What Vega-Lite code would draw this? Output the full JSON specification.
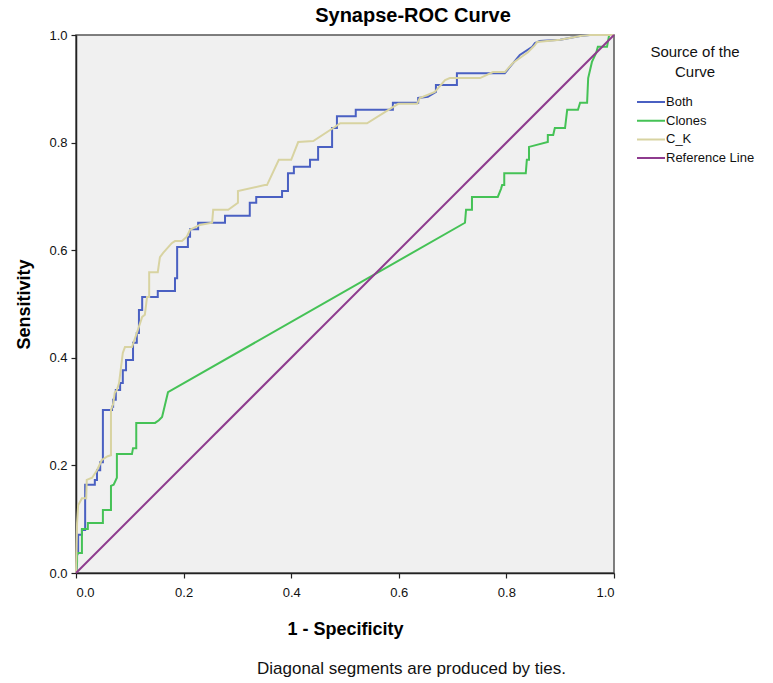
{
  "$schema": "https://vega.github.io/schema/vega-lite/v6.json",
  "autosize": "none",
  "padding": {"left": 76, "top": 35, "right": 159, "bottom": 110},
  "width": 538,
  "height": 538,
  "background": "white",
  "title": {
    "text": "Synapse-ROC Curve",
    "fontSize": 20,
    "fontWeight": "bold",
    "font": "Liberation Sans",
    "color": "black",
    "anchor": "middle",
    "baseline": "bottom",
    "offset": 7,
    "dx": 68,
    "dy": 24
  },
  "config": {
    "font": "Liberation Sans",
    "view": {"fill": "#f0f0f0", "stroke": "#555555", "strokeWidth": 1.5},
    "axis": {
      "grid": false,
      "domainColor": "#222222",
      "domainWidth": 1.5,
      "tickColor": "#222222",
      "tickWidth": 1.2,
      "tickSize": 5,
      "labelFontSize": 13,
      "labelColor": "#111111",
      "labelFont": "Liberation Sans",
      "titleFont": "Liberation Sans",
      "titleColor": "black"
    },
    "legend": {
      "labelFont": "Liberation Sans",
      "titleFont": "Liberation Sans"
    }
  },
  "data": {
    "values": [
      {"c": "Both", "x": 0, "y": 0},
      {"c": "Both", "x": 0.002, "y": 0.033},
      {"c": "Both", "x": 0.004, "y": 0.037},
      {"c": "Both", "x": 0.004, "y": 0.071},
      {"c": "Both", "x": 0.011, "y": 0.071},
      {"c": "Both", "x": 0.011, "y": 0.080},
      {"c": "Both", "x": 0.017, "y": 0.080},
      {"c": "Both", "x": 0.017, "y": 0.164},
      {"c": "Both", "x": 0.035, "y": 0.164},
      {"c": "Both", "x": 0.035, "y": 0.173},
      {"c": "Both", "x": 0.039, "y": 0.173},
      {"c": "Both", "x": 0.039, "y": 0.191},
      {"c": "Both", "x": 0.045, "y": 0.191},
      {"c": "Both", "x": 0.045, "y": 0.206},
      {"c": "Both", "x": 0.050, "y": 0.206},
      {"c": "Both", "x": 0.050, "y": 0.303},
      {"c": "Both", "x": 0.067, "y": 0.303},
      {"c": "Both", "x": 0.067, "y": 0.309},
      {"c": "Both", "x": 0.069, "y": 0.309},
      {"c": "Both", "x": 0.069, "y": 0.322},
      {"c": "Both", "x": 0.074, "y": 0.322},
      {"c": "Both", "x": 0.074, "y": 0.340},
      {"c": "Both", "x": 0.082, "y": 0.340},
      {"c": "Both", "x": 0.082, "y": 0.353},
      {"c": "Both", "x": 0.087, "y": 0.353},
      {"c": "Both", "x": 0.087, "y": 0.377},
      {"c": "Both", "x": 0.093, "y": 0.377},
      {"c": "Both", "x": 0.093, "y": 0.396},
      {"c": "Both", "x": 0.106, "y": 0.396},
      {"c": "Both", "x": 0.106, "y": 0.428},
      {"c": "Both", "x": 0.113, "y": 0.428},
      {"c": "Both", "x": 0.113, "y": 0.446},
      {"c": "Both", "x": 0.117, "y": 0.446},
      {"c": "Both", "x": 0.117, "y": 0.489},
      {"c": "Both", "x": 0.123, "y": 0.489},
      {"c": "Both", "x": 0.123, "y": 0.513},
      {"c": "Both", "x": 0.152, "y": 0.513},
      {"c": "Both", "x": 0.152, "y": 0.524},
      {"c": "Both", "x": 0.184, "y": 0.524},
      {"c": "Both", "x": 0.184, "y": 0.548},
      {"c": "Both", "x": 0.188, "y": 0.548},
      {"c": "Both", "x": 0.188, "y": 0.606},
      {"c": "Both", "x": 0.208, "y": 0.606},
      {"c": "Both", "x": 0.208, "y": 0.625},
      {"c": "Both", "x": 0.212, "y": 0.625},
      {"c": "Both", "x": 0.212, "y": 0.639},
      {"c": "Both", "x": 0.227, "y": 0.639},
      {"c": "Both", "x": 0.227, "y": 0.651},
      {"c": "Both", "x": 0.277, "y": 0.651},
      {"c": "Both", "x": 0.277, "y": 0.664},
      {"c": "Both", "x": 0.323, "y": 0.664},
      {"c": "Both", "x": 0.323, "y": 0.688},
      {"c": "Both", "x": 0.335, "y": 0.688},
      {"c": "Both", "x": 0.335, "y": 0.699},
      {"c": "Both", "x": 0.383, "y": 0.699},
      {"c": "Both", "x": 0.383, "y": 0.710},
      {"c": "Both", "x": 0.394, "y": 0.710},
      {"c": "Both", "x": 0.394, "y": 0.743},
      {"c": "Both", "x": 0.405, "y": 0.743},
      {"c": "Both", "x": 0.405, "y": 0.755},
      {"c": "Both", "x": 0.435, "y": 0.755},
      {"c": "Both", "x": 0.435, "y": 0.768},
      {"c": "Both", "x": 0.450, "y": 0.768},
      {"c": "Both", "x": 0.450, "y": 0.792},
      {"c": "Both", "x": 0.476, "y": 0.792},
      {"c": "Both", "x": 0.476, "y": 0.827},
      {"c": "Both", "x": 0.485, "y": 0.827},
      {"c": "Both", "x": 0.485, "y": 0.849},
      {"c": "Both", "x": 0.520, "y": 0.849},
      {"c": "Both", "x": 0.520, "y": 0.861},
      {"c": "Both", "x": 0.589, "y": 0.861},
      {"c": "Both", "x": 0.589, "y": 0.874},
      {"c": "Both", "x": 0.636, "y": 0.874},
      {"c": "Both", "x": 0.636, "y": 0.883},
      {"c": "Both", "x": 0.654, "y": 0.885},
      {"c": "Both", "x": 0.669, "y": 0.894},
      {"c": "Both", "x": 0.669, "y": 0.907},
      {"c": "Both", "x": 0.708, "y": 0.907},
      {"c": "Both", "x": 0.708, "y": 0.929},
      {"c": "Both", "x": 0.797, "y": 0.929},
      {"c": "Both", "x": 0.825, "y": 0.963},
      {"c": "Both", "x": 0.848, "y": 0.978},
      {"c": "Both", "x": 0.853, "y": 0.985},
      {"c": "Both", "x": 0.862, "y": 0.989},
      {"c": "Both", "x": 0.900, "y": 0.991},
      {"c": "Both", "x": 0.937, "y": 0.998},
      {"c": "Both", "x": 0.955, "y": 1},
      {"c": "Both", "x": 1, "y": 1},

      {"c": "Clones", "x": 0, "y": 0},
      {"c": "Clones", "x": 0.002, "y": 0.020},
      {"c": "Clones", "x": 0.002, "y": 0.037},
      {"c": "Clones", "x": 0.011, "y": 0.037},
      {"c": "Clones", "x": 0.011, "y": 0.082},
      {"c": "Clones", "x": 0.022, "y": 0.082},
      {"c": "Clones", "x": 0.022, "y": 0.093},
      {"c": "Clones", "x": 0.050, "y": 0.093},
      {"c": "Clones", "x": 0.050, "y": 0.117},
      {"c": "Clones", "x": 0.065, "y": 0.117},
      {"c": "Clones", "x": 0.065, "y": 0.162},
      {"c": "Clones", "x": 0.070, "y": 0.164},
      {"c": "Clones", "x": 0.076, "y": 0.177},
      {"c": "Clones", "x": 0.076, "y": 0.221},
      {"c": "Clones", "x": 0.104, "y": 0.221},
      {"c": "Clones", "x": 0.106, "y": 0.232},
      {"c": "Clones", "x": 0.112, "y": 0.232},
      {"c": "Clones", "x": 0.112, "y": 0.279},
      {"c": "Clones", "x": 0.147, "y": 0.279},
      {"c": "Clones", "x": 0.154, "y": 0.284},
      {"c": "Clones", "x": 0.160, "y": 0.290},
      {"c": "Clones", "x": 0.171, "y": 0.336},
      {"c": "Clones", "x": 0.723, "y": 0.651},
      {"c": "Clones", "x": 0.725, "y": 0.675},
      {"c": "Clones", "x": 0.736, "y": 0.675},
      {"c": "Clones", "x": 0.736, "y": 0.699},
      {"c": "Clones", "x": 0.784, "y": 0.699},
      {"c": "Clones", "x": 0.790, "y": 0.714},
      {"c": "Clones", "x": 0.792, "y": 0.721},
      {"c": "Clones", "x": 0.796, "y": 0.721},
      {"c": "Clones", "x": 0.796, "y": 0.743},
      {"c": "Clones", "x": 0.836, "y": 0.743},
      {"c": "Clones", "x": 0.838, "y": 0.768},
      {"c": "Clones", "x": 0.842, "y": 0.768},
      {"c": "Clones", "x": 0.842, "y": 0.792},
      {"c": "Clones", "x": 0.877, "y": 0.801},
      {"c": "Clones", "x": 0.877, "y": 0.814},
      {"c": "Clones", "x": 0.887, "y": 0.814},
      {"c": "Clones", "x": 0.890, "y": 0.827},
      {"c": "Clones", "x": 0.909, "y": 0.827},
      {"c": "Clones", "x": 0.913, "y": 0.861},
      {"c": "Clones", "x": 0.933, "y": 0.861},
      {"c": "Clones", "x": 0.937, "y": 0.874},
      {"c": "Clones", "x": 0.950, "y": 0.874},
      {"c": "Clones", "x": 0.952, "y": 0.920},
      {"c": "Clones", "x": 0.959, "y": 0.950},
      {"c": "Clones", "x": 0.967, "y": 0.967},
      {"c": "Clones", "x": 0.970, "y": 0.978},
      {"c": "Clones", "x": 0.987, "y": 0.978},
      {"c": "Clones", "x": 0.991, "y": 1},
      {"c": "Clones", "x": 1, "y": 1},

      {"c": "C_K", "x": 0, "y": 0},
      {"c": "C_K", "x": 0.002, "y": 0.093},
      {"c": "C_K", "x": 0.004, "y": 0.126},
      {"c": "C_K", "x": 0.011, "y": 0.139},
      {"c": "C_K", "x": 0.019, "y": 0.139},
      {"c": "C_K", "x": 0.020, "y": 0.173},
      {"c": "C_K", "x": 0.030, "y": 0.177},
      {"c": "C_K", "x": 0.039, "y": 0.191},
      {"c": "C_K", "x": 0.048, "y": 0.210},
      {"c": "C_K", "x": 0.059, "y": 0.217},
      {"c": "C_K", "x": 0.065, "y": 0.219},
      {"c": "C_K", "x": 0.065, "y": 0.303},
      {"c": "C_K", "x": 0.069, "y": 0.314},
      {"c": "C_K", "x": 0.072, "y": 0.335},
      {"c": "C_K", "x": 0.076, "y": 0.340},
      {"c": "C_K", "x": 0.080, "y": 0.353},
      {"c": "C_K", "x": 0.087, "y": 0.409},
      {"c": "C_K", "x": 0.091, "y": 0.420},
      {"c": "C_K", "x": 0.104, "y": 0.420},
      {"c": "C_K", "x": 0.113, "y": 0.446},
      {"c": "C_K", "x": 0.123, "y": 0.476},
      {"c": "C_K", "x": 0.128, "y": 0.480},
      {"c": "C_K", "x": 0.132, "y": 0.513},
      {"c": "C_K", "x": 0.136, "y": 0.513},
      {"c": "C_K", "x": 0.136, "y": 0.559},
      {"c": "C_K", "x": 0.152, "y": 0.559},
      {"c": "C_K", "x": 0.156, "y": 0.587},
      {"c": "C_K", "x": 0.162, "y": 0.595},
      {"c": "C_K", "x": 0.178, "y": 0.613},
      {"c": "C_K", "x": 0.184, "y": 0.617},
      {"c": "C_K", "x": 0.197, "y": 0.617},
      {"c": "C_K", "x": 0.206, "y": 0.625},
      {"c": "C_K", "x": 0.212, "y": 0.638},
      {"c": "C_K", "x": 0.230, "y": 0.647},
      {"c": "C_K", "x": 0.253, "y": 0.651},
      {"c": "C_K", "x": 0.255, "y": 0.675},
      {"c": "C_K", "x": 0.283, "y": 0.675},
      {"c": "C_K", "x": 0.301, "y": 0.688},
      {"c": "C_K", "x": 0.301, "y": 0.710},
      {"c": "C_K", "x": 0.351, "y": 0.721},
      {"c": "C_K", "x": 0.355, "y": 0.721},
      {"c": "C_K", "x": 0.377, "y": 0.768},
      {"c": "C_K", "x": 0.400, "y": 0.768},
      {"c": "C_K", "x": 0.413, "y": 0.801},
      {"c": "C_K", "x": 0.441, "y": 0.803},
      {"c": "C_K", "x": 0.481, "y": 0.829},
      {"c": "C_K", "x": 0.491, "y": 0.836},
      {"c": "C_K", "x": 0.541, "y": 0.836},
      {"c": "C_K", "x": 0.589, "y": 0.866},
      {"c": "C_K", "x": 0.599, "y": 0.872},
      {"c": "C_K", "x": 0.634, "y": 0.872},
      {"c": "C_K", "x": 0.639, "y": 0.883},
      {"c": "C_K", "x": 0.667, "y": 0.894},
      {"c": "C_K", "x": 0.686, "y": 0.916},
      {"c": "C_K", "x": 0.695, "y": 0.920},
      {"c": "C_K", "x": 0.751, "y": 0.920},
      {"c": "C_K", "x": 0.775, "y": 0.931},
      {"c": "C_K", "x": 0.797, "y": 0.931},
      {"c": "C_K", "x": 0.812, "y": 0.948},
      {"c": "C_K", "x": 0.840, "y": 0.968},
      {"c": "C_K", "x": 0.853, "y": 0.981},
      {"c": "C_K", "x": 0.857, "y": 0.987},
      {"c": "C_K", "x": 0.900, "y": 0.991},
      {"c": "C_K", "x": 0.937, "y": 0.998},
      {"c": "C_K", "x": 0.955, "y": 1},
      {"c": "C_K", "x": 1, "y": 1},

      {"c": "Reference Line", "x": 0, "y": 0},
      {"c": "Reference Line", "x": 1, "y": 1}
    ]
  },
  "layer": [
    {
      "mark": {"type": "line", "strokeWidth": 2, "interpolate": "linear"},
      "encoding": {
        "x": {
          "field": "x",
          "type": "quantitative",
          "scale": {"domain": [0, 1], "nice": false, "zero": false},
          "axis": {
            "orient": "bottom",
            "title": "1 - Specificity",
            "titleFontSize": 18,
            "titleFontWeight": "bold",
            "titleBaseline": "alphabetic",
            "titleY": 61,
            "values": [0, 0.2, 0.4, 0.6, 0.8, 1],
            "format": ".1f",
            "labelPadding": 8
          }
        },
        "y": {
          "field": "y",
          "type": "quantitative",
          "scale": {"domain": [0, 1], "nice": false, "zero": false},
          "axis": {
            "title": "Sensitivity",
            "titleFontSize": 18,
            "titleFontWeight": "bold",
            "titleBaseline": "alphabetic",
            "titleAngle": -90,
            "titleX": -47,
            "values": [0, 0.2, 0.4, 0.6, 0.8, 1],
            "format": ".1f",
            "labelPadding": 4
          }
        },
        "color": {
          "field": "c",
          "type": "nominal",
          "scale": {
            "domain": ["Both", "Clones", "C_K", "Reference Line"],
            "range": ["#4a60c2", "#45c256", "#d8d3a1", "#8e3b8e"]
          },
          "legend": {
            "title": ["Source of the", "Curve"],
            "orient": "none",
            "legendX": 560,
            "legendY": 10,
            "titleFontSize": 15,
            "titleFontWeight": "normal",
            "titleColor": "#111111",
            "titleLineHeight": 20,
            "titleAnchor": "middle",
            "titleAlign": "center",
            "titlePadding": 15,
            "labelFontSize": 13,
            "labelColor": "#111111",
            "labelOffset": 0,
            "symbolType": "stroke",
            "symbolSize": 784,
            "symbolStrokeWidth": 2,
            "clipHeight": 14,
            "rowPadding": 4.7
          }
        },
        "order": [
          {"field": "x", "type": "quantitative"},
          {"field": "y", "type": "quantitative"}
        ]
      }
    },
    {
      "transform": [{"filter": "datum.c === 'Reference Line'"}],
      "mark": {"type": "line", "strokeOpacity": 0},
      "encoding": {
        "x": {
          "field": "x",
          "type": "quantitative",
          "axis": {
            "orient": "bottom",
            "title": "Diagonal segments are produced by ties.",
            "labels": false,
            "ticks": false,
            "domain": false,
            "grid": false,
            "titleFontSize": 17,
            "titleFontWeight": "normal",
            "titleColor": "#111111",
            "titleBaseline": "alphabetic",
            "titleX": 335,
            "titleY": 100
          }
        },
        "y": {
          "field": "y",
          "type": "quantitative",
          "axis": {
            "title": "Sensitivity",
            "titleFontSize": 18,
            "titleFontWeight": "bold",
            "titleBaseline": "alphabetic",
            "titleAngle": -90,
            "titleX": -47,
            "values": [0, 0.2, 0.4, 0.6, 0.8, 1],
            "format": ".1f",
            "labelPadding": 4
          }
        }
      }
    }
  ],
  "resolve": {"axis": {"x": "independent"}}
}
